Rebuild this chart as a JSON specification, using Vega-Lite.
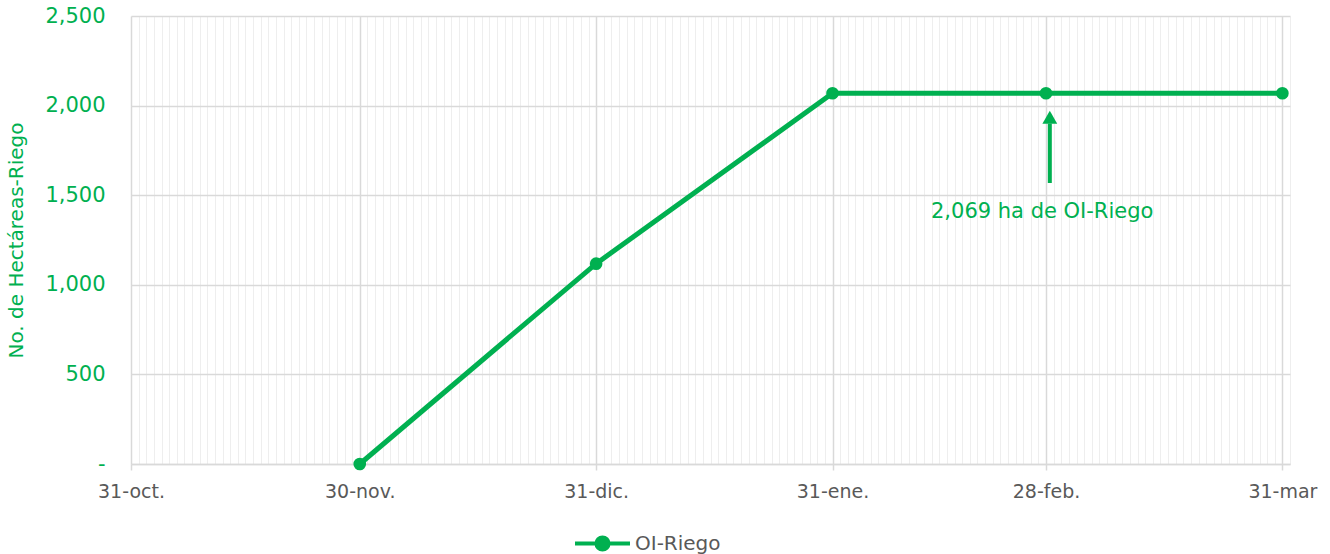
{
  "$schema": "https://vega.github.io/schema/vega-lite/v6.json",
  "autosize": {"type": "none"},
  "padding": {"left": 131, "top": 16, "right": 40, "bottom": 90},
  "width": 1159,
  "height": 448,
  "background": "white",
  "config": {"font": "DejaVu Sans", "view": {"stroke": null}},
  "datasets": {
    "serie": [
      {"fecha": "2024-11-30", "valor": 0, "serie": "OI-Riego"},
      {"fecha": "2024-12-31", "valor": 1118, "serie": "OI-Riego"},
      {"fecha": "2025-01-31", "valor": 2069, "serie": "OI-Riego"},
      {"fecha": "2025-02-28", "valor": 2069, "serie": "OI-Riego"},
      {"fecha": "2025-03-31", "valor": 2069, "serie": "OI-Riego"}
    ],
    "flecha": [
      {"fecha": "2025-02-28T12:00:00Z", "y1": 1568, "y2": 1900, "punta": 1935, "texto": "2,069 ha de OI-Riego", "ytexto": 1406, "ftexto": "2025-02-27T12:00:00Z"}
    ]
  },
  "layer": [
    {
      "data": {"name": "serie"},
      "mark": {"type": "point", "opacity": 0},
      "encoding": {
        "x": {"field": "fecha", "type": "temporal",
          "scale": {"type": "utc", "nice": false, "domain": [{"year": 2024, "month": 10, "date": 31, "utc": true}, {"year": 2025, "month": 4, "date": 1, "utc": true}]},
          "axis": {"orient": "bottom", "grid": true, "gridColor": "#eeeeee", "gridWidth": 1, "labels": false, "ticks": false, "domain": false, "title": null, "tickCount": {"interval": "day", "step": 1}}},
        "y": {"field": "valor", "type": "quantitative", "scale": {"domain": [0, 2500], "nice": false, "zero": true},
          "axis": {"orient": "left", "grid": true, "gridColor": "#d9d9d9", "gridWidth": 1.5, "values": [0, 500, 1000, 1500, 2000, 2500], "domain": false, "ticks": false, "labelPadding": 26, "labelColor": "#00b050", "labelFontSize": 21,
            "labelExpr": "datum.value == 0 ? '-\u00a0\u00a0' : format(datum.value, ',')",
            "title": "No. de Hectáreas-Riego", "titleColor": "#00b050", "titleFontSize": 20, "titleFontWeight": "normal", "titlePadding": 18}}
      }
    },
    {
      "data": {"name": "serie"},
      "mark": {"type": "line", "strokeWidth": 5, "point": {"filled": true, "size": 160}},
      "encoding": {
        "x": {"field": "fecha", "type": "temporal",
          "axis": {"orient": "bottom", "grid": true, "gridColor": "#d9d9d9", "gridWidth": 1.5, "domain": true, "domainColor": "#d9d9d9", "domainWidth": 1.5, "ticks": true, "tickColor": "#d9d9d9", "tickSize": 6, "tickWidth": 1.5,
            "values": [
              {"year": 2024, "month": 10, "date": 31, "utc": true},
              {"year": 2024, "month": 11, "date": 30, "utc": true},
              {"year": 2024, "month": 12, "date": 31, "utc": true},
              {"year": 2025, "month": 1, "date": 31, "utc": true},
              {"year": 2025, "month": 2, "date": 28, "utc": true},
              {"year": 2025, "month": 3, "date": 31, "utc": true}
            ],
            "labelExpr": "utcFormat(datum.value, '%d') + '-' + ['ene.','feb.','mar','abr.','may.','jun.','jul.','ago.','sep.','oct.','nov.','dic.'][utcmonth(datum.value)]",
            "labelColor": "#595959", "labelFontSize": 19, "labelPadding": 12, "labelOverlap": false, "labelFlush": false, "labelBound": false, "title": null}},
        "y": {"field": "valor", "type": "quantitative", "axis": null},
        "color": {"field": "serie", "type": "nominal", "scale": {"range": ["#00b050"]},
          "legend": {"title": null, "orient": "none", "legendX": 442, "legendY": 498, "direction": "horizontal",
            "symbolType": "M-1,0L1,0M-0.22,0A0.22,0.22 0 1,0 0.22,0A0.22,0.22 0 1,0 -0.22,0Z",
            "symbolSize": 3025, "symbolStrokeWidth": 4, "symbolFillColor": "#00b050", "symbolStrokeColor": "#00b050",
            "labelColor": "#595959", "labelFontSize": 20, "labelOffset": 3}}
      }
    },
    {
      "data": {"name": "flecha"},
      "mark": {"type": "rule", "color": "#00b050", "strokeWidth": 4},
      "encoding": {
        "x": {"field": "fecha", "type": "temporal", "axis": null},
        "y": {"field": "y1", "type": "quantitative", "axis": null},
        "y2": {"field": "y2"}
      }
    },
    {
      "data": {"name": "flecha"},
      "mark": {"type": "point", "shape": "triangle-up", "filled": true, "color": "#00b050", "size": 220, "opacity": 1},
      "encoding": {
        "x": {"field": "fecha", "type": "temporal", "axis": null},
        "y": {"field": "punta", "type": "quantitative", "axis": null}
      }
    },
    {
      "data": {"name": "flecha"},
      "mark": {"type": "text", "color": "#00b050", "fontSize": 21, "align": "center", "baseline": "middle"},
      "encoding": {
        "x": {"field": "ftexto", "type": "temporal", "axis": null},
        "y": {"field": "ytexto", "type": "quantitative", "axis": null},
        "text": {"field": "texto"}
      }
    }
  ],
  "resolve": {"axis": {"x": "independent", "y": "independent"}}
}
